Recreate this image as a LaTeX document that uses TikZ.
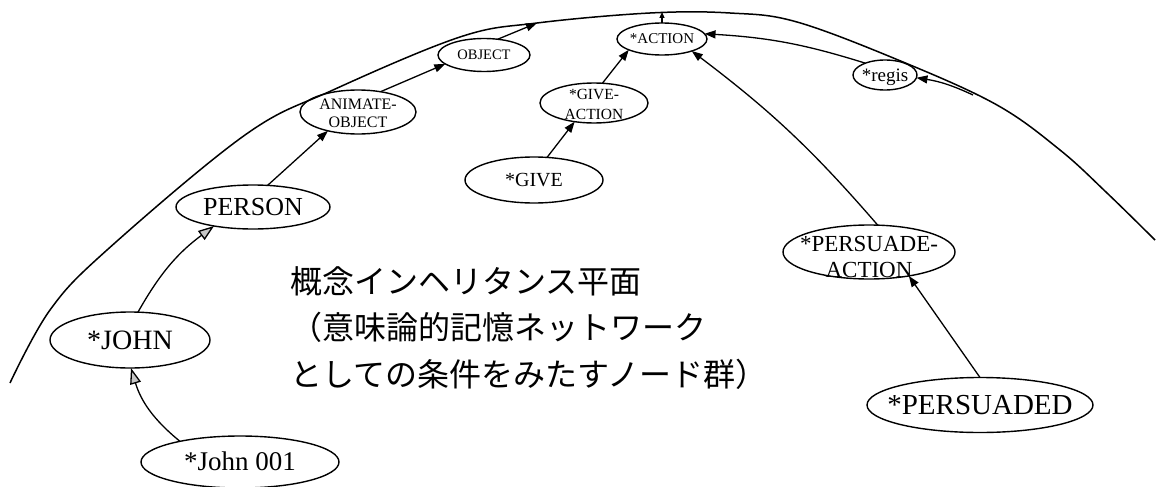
\documentclass[tikz,border=0pt]{standalone}
\usepackage{fontspec}
\setmainfont{Liberation Serif}
\newfontfamily\jpfont{Noto Sans CJK JP}
\usetikzlibrary{shapes.geometric,arrows.meta}
\newcommand\ctxt[2][-0.33em]{\makebox[0pt]{\raisebox{#1}[0pt][0pt]{#2}}}
\newcommand\ttxt[3][-0.25em]{\makebox[0pt]{\raisebox{#1}[0pt][0pt]{\begin{tabular}{@{}c@{}}#2\\#3\end{tabular}}}}
\begin{document}
\begin{tikzpicture}[x=1pt,y=-1pt,
  el/.style={ellipse, draw, line width=1.4pt, inner sep=0pt, outer sep=0pt},
  conn/.style={line width=1.3pt, -{Triangle[length=11pt,width=8pt]}},
  bigconn/.style={line width=1.3pt, -{Triangle[length=16pt,width=11pt,fill=gray!45]}},
  smallconn/.style={line width=1.2pt, -{Triangle[length=6pt,width=5pt]}},
  jp/.style={anchor=base west, inner sep=0pt, font=\jpfont\fontsize{32}{32}\selectfont}]
\useasboundingbox (0,0) rectangle (1164,487);
\fill[white] (0,0) rectangle (1164,487);
% big arc (the plane boundary)
\draw[line width=1.5pt] plot[smooth, tension=0.6] coordinates {(10,383) (50,310) (107,250) (245,135) (333,90) (460,37) (537,23) (650,13) (730,13) (797,22) (903,62) (997,105) (1060,150) (1107,193) (1155,240)};
\coordinate (c1) at (537,23);
\coordinate (c2) at (662,12);
\coordinate (c3) at (973,95);
% nodes
\node[el, minimum width=198pt, minimum height=52pt, font=\fontsize{27}{30}\selectfont] (j001) at (240,462) {\ctxt{*John 001}};
\node[el, minimum width=160pt, minimum height=56pt, font=\fontsize{28}{30}\selectfont] (john) at (130,340) {\ctxt{*JOHN}};
\node[el, minimum width=154pt, minimum height=44pt, font=\fontsize{26}{28}\selectfont] (person) at (253,207) {\ctxt{PERSON}};
\node[el, minimum width=116pt, minimum height=44pt, font=\fontsize{16}{18}\selectfont] (animate) at (358,112) {\ttxt[-7pt]{ANIMATE-}{OBJECT}};
\node[el, minimum width=92pt, minimum height=33pt, font=\fontsize{14.5}{16}\selectfont] (object) at (484,55) {\ctxt{OBJECT}};
\node[el, minimum width=108pt, minimum height=40pt, font=\fontsize{15.5}{20}\selectfont] (gaction) at (594,103) {\ttxt[-6pt]{*GIVE-}{ACTION}};
\node[el, minimum width=138pt, minimum height=46pt, font=\fontsize{20}{22}\selectfont] (give) at (534,180) {\ctxt{*GIVE}};
\node[el, minimum width=90pt, minimum height=32pt, font=\fontsize{15}{17}\selectfont] (action) at (662,39) {\ctxt{*ACTION}};
\node[el, minimum width=64pt, minimum height=30pt, font=\fontsize{19}{21}\selectfont] (regis) at (885,75) {\ctxt{*regis}};
\node[el, minimum width=172pt, minimum height=54pt, font=\fontsize{23}{26}\selectfont] (paction) at (869,252) {\ttxt[-14pt]{*PERSUADE-}{ACTION}};
\node[el, minimum width=226pt, minimum height=55pt, font=\fontsize{29}{31}\selectfont] (persuaded) at (980,405) {\ctxt{*PERSUADED}};
% japanese text
\node[jp] (jp1) at (290,293) {概念インヘリタンス平面};
\node[jp] (jp2) at (290,339) {（意味論的記憶ネットワーク};
\node[jp] (jp3) at (290,386) {としての条件をみたすノード群）};
% connectors
\draw[bigconn] (j001.161) to[bend left=17] (john.272);
\draw[bigconn] (john.74) to[bend left=12] (person.206);
\draw[conn] (person.56) -- (animate.212);
\draw[conn] (animate.42) -- (object.193);
\draw[conn] (object.49) -- (c1);
\draw[smallconn] (action.north) -- (c2);
\draw[conn] (gaction.67) -- (action.198);
\draw[conn] (give.60) -- (gaction.224);
\draw[conn] (regis.149) to[bend right=7] (action.7);
\draw[conn] (c3) to[bend right=8] (regis.355);
\draw[conn] (paction.72) to[bend right=6] (action.338);
\draw[conn] (persuaded.90) -- (paction.329);
\end{tikzpicture}
\end{document}
